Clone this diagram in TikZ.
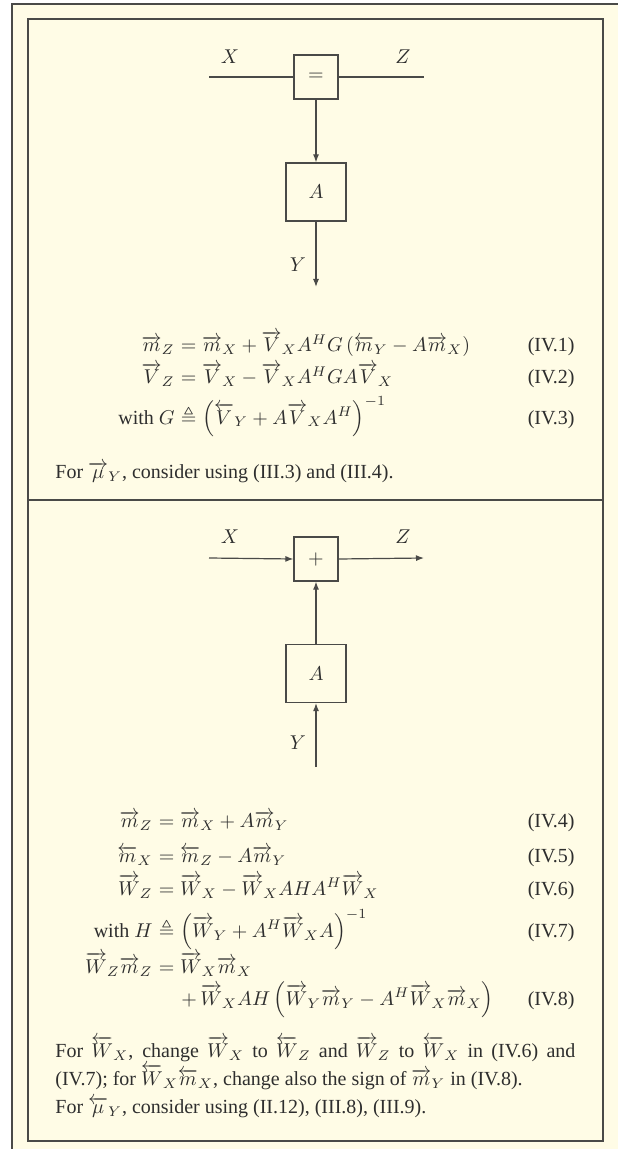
\documentclass[tikz,border=0pt]{standalone}
\usepackage{amsmath,amssymb}
\usepackage{fontspec}
\setmainfont{Liberation Serif}
\usetikzlibrary{arrows.meta}
\definecolor{cream}{HTML}{FFFCE6}
\definecolor{ink}{HTML}{2E2E2E}
\definecolor{frame}{HTML}{4A4A48}
\newcommand{\fw}[1]{\overrightarrow{#1}}
\newcommand{\bw}[1]{\overleftarrow{#1}}
\begin{document}
\begin{tikzpicture}[x=0.5pt,y=-0.5pt,
  blk/.style={draw=frame, line width=0.6pt, fill=cream, inner sep=0pt, text=ink},
  smallbox/.style={blk, minimum width=22pt, minimum height=22pt},
  bigbox/.style={blk, minimum width=30pt, minimum height=29pt},
  wire/.style={draw=frame, line width=0.6pt},
  arr/.style={wire, -{Latex[length=4pt,width=3pt]}},
  lbl/.style={inner sep=0pt, text=ink},
  lhs/.style={lbl, anchor=base east},
  rhs/.style={lbl, anchor=base west},
  eqno/.style={lbl, anchor=base east}]
\useasboundingbox (0,0) rectangle (618,1149);
\fill[white] (0,0) rectangle (618,1149);
\fill[cream] (12,4) rectangle (618,1149);
% outer page lines
\draw[frame, line width=1pt] (12,1149) -- (12,4) -- (618,4);
% inner box and divider
\draw[frame, line width=0.8pt] (28,19) rectangle (603,1141);
\draw[frame, line width=0.8pt] (28,500) -- (603,500);

% ---------- top diagram ----------
\node[smallbox] (eq) at (316,77) {$=$};
\node[bigbox] (A1) at (316,192) {$A$};
\coordinate (x1) at (209,77);
\coordinate (z1) at (424,77);
\coordinate (y1) at (316,287);
\node[lbl] (X1) at (230,57) {$X$};
\node[lbl] (Z1) at (403,57) {$Z$};
\node[lbl] (Y1) at (298,265) {$Y$};
\draw[wire] (x1) -- (eq.west);
\draw[wire] (eq.east) -- (z1);
\draw[arr] (eq.south) -- (A1.north);
\draw[arr] (A1.south) -- (y1);

% equations IV.1 - IV.3
\node[lhs] (l1) at (175,352) {$\fw{m}_Z$};
\node[rhs] (r1) at (175,352) {${}=\fw{m}_X+\fw{V}_X A^H G\,(\bw{m}_Y-A\fw{m}_X)$};
\node[eqno] (n1) at (575,352) {(IV.1)};
\node[lhs] (l2) at (175,384) {$\fw{V}_Z$};
\node[rhs] (r2) at (175,384) {${}=\fw{V}_X-\fw{V}_X A^H G A\fw{V}_X$};
\node[eqno] (n2) at (575,384) {(IV.2)};
\node[lhs] (l3) at (175,424) {with $G$};
\node[rhs] (r3) at (175,424) {${}\triangleq\left(\bw{V}_Y+A\fw{V}_X A^H\right)^{-1}$};
\node[eqno] (n3) at (575,424) {(IV.3)};
\node[rhs] (t1) at (55,478) {For $\fw{\mu}_Y$, consider using (III.3) and (III.4).};

% ---------- bottom diagram ----------
\node[smallbox] (plus) at (316,559) {$+$};
\node[bigbox] (A2) at (316,673.5) {$A$};
\coordinate (x2) at (209,558);
\coordinate (z2) at (424,558);
\coordinate (y2) at (316,767);
\node[lbl] (X2) at (230,537) {$X$};
\node[lbl] (Z2) at (403,537) {$Z$};
\node[lbl] (Y2) at (298,743) {$Y$};
\draw[arr] (x2) -- (plus.west);
\draw[arr] (plus.east) -- (z2);
\draw[arr] (A2.north) -- (plus.south);
\draw[arr] (y2) -- (A2.south);

% equations IV.4 - IV.8
\node[lhs] (l4) at (153,827) {$\fw{m}_Z$};
\node[rhs] (r4) at (153,827) {${}=\fw{m}_X+A\fw{m}_Y$};
\node[eqno] (n4) at (575,827) {(IV.4)};
\node[lhs] (l5) at (153,862) {$\bw{m}_X$};
\node[rhs] (r5) at (153,862) {${}=\bw{m}_Z-A\fw{m}_Y$};
\node[eqno] (n5) at (575,862) {(IV.5)};
\node[lhs] (l6) at (153,895) {$\fw{W}_Z$};
\node[rhs] (r6) at (153,895) {${}=\fw{W}_X-\fw{W}_X AHA^H\fw{W}_X$};
\node[eqno] (n6) at (575,895) {(IV.6)};
\node[lhs] (l7) at (153,937) {with $H$};
\node[rhs] (r7) at (153,937) {${}\triangleq\left(\fw{W}_Y+A^H\fw{W}_X A\right)^{-1}$};
\node[eqno] (n7) at (575,937) {(IV.7)};
\node[lhs] (l8) at (153,973) {$\fw{W}_Z\fw{m}_Z$};
\node[rhs] (r8) at (153,973) {${}=\fw{W}_X\fw{m}_X$};
\node[rhs] (r8b) at (181,1005) {$+\,\fw{W}_X AH\left(\fw{W}_Y\fw{m}_Y-A^H\fw{W}_X\fw{m}_X\right)$};
\node[eqno] (n8) at (575,1005) {(IV.8)};

\node[rhs] (t2) at (55,1057) {\makebox[260pt][s]{For $\bw{W}_X$, change $\fw{W}_X$ to $\bw{W}_Z$ and $\fw{W}_Z$ to $\bw{W}_X$ in (IV.6) and}};
\node[rhs] (t3) at (55,1085) {(IV.7); for $\bw{W}_X\bw{m}_X$, change also the sign of $\fw{m}_Y$ in (IV.8).};
\node[rhs] (t4) at (55,1113) {For $\bw{\mu}_Y$, consider using (II.12), (III.8), (III.9).};
\end{tikzpicture}
\end{document}
